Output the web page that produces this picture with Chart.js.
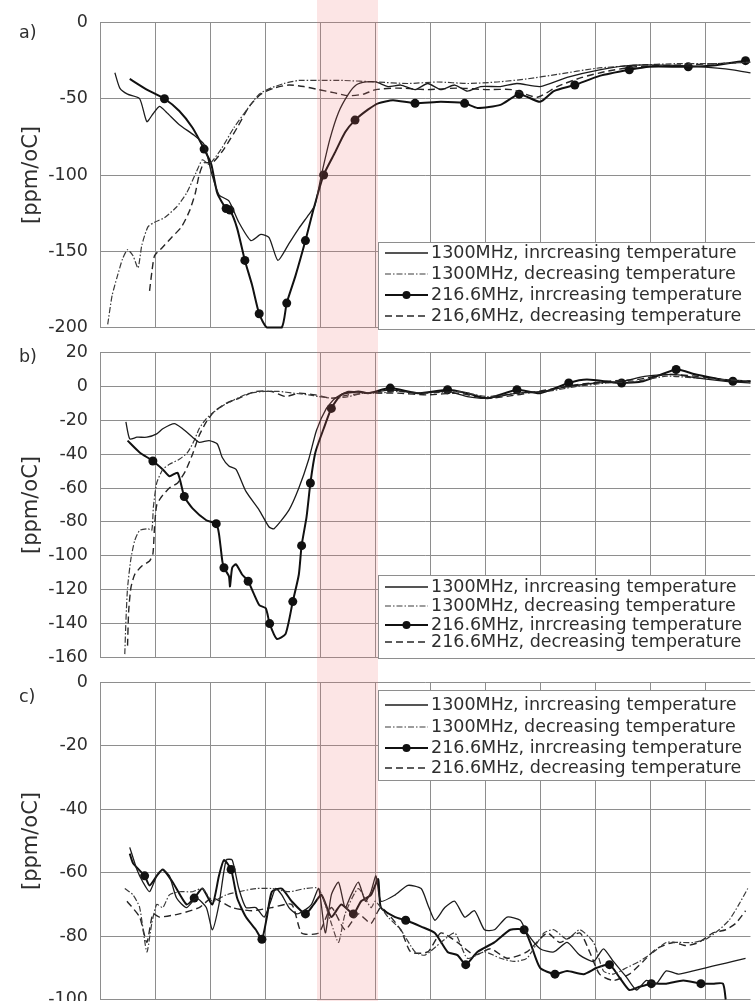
<!DOCTYPE html>
<html>
<head>
<meta charset="utf-8">
<script src="https://cdn.jsdelivr.net/npm/chart.js@4.4.0/dist/chart.umd.min.js"></script>
<style>
html,body{margin:0;padding:0;background:#fff;width:755px;height:1001px;overflow:hidden;}
#wrap{position:relative;width:755px;height:1001px;}
#wrap canvas{position:absolute;left:0;}
#band{position:absolute;left:317px;top:0;width:61px;height:1001px;background:rgba(240,110,110,0.18);pointer-events:none;z-index:5;}
</style>
</head>
<body>
<div id="wrap">
	<canvas id="ca" width="755" height="350" style="top:0px"></canvas>
	<canvas id="cb" width="755" height="350" style="top:330px"></canvas>
	<canvas id="cc" width="755" height="362" style="top:660px"></canvas>
	<div id="band"></div>
</div>
<script>
// x: one unit per vertical grid line (axis labels are cut off in the source)
const xGrid = [0,1,2,3,4,5,6,7,8,9,10,11];
const xMax = 11.81;

const ticksA = [0,-50,-100,-150,-200];
const ticksB = [20,0,-20,-40,-60,-80,-100,-120,-140,-160];
const ticksC = [0,-20,-40,-60,-80,-100];

const labelsA = ['1300MHz, inrcreasing temperature','1300MHz, decreasing temperature','216.6MHz, inrcreasing temperature','216,6MHz, decreasing temperature'];
const labelsBC = ['1300MHz, inrcreasing temperature','1300MHz, decreasing temperature','216.6MHz, inrcreasing temperature','216.6MHz, decreasing temperature'];

// ---- panel a ----
const aInc1300 = [[0.27,-33],[0.36,-43],[0.50,-47],[0.72,-50],[0.85,-65],[0.96,-60],[1.08,-55],[1.21,-59],[1.44,-67],[1.71,-74],[1.89,-80],[2.02,-98],[2.16,-113],[2.34,-117],[2.52,-131],[2.74,-143],[2.92,-139],[3.07,-141],[3.23,-156],[3.43,-145],[3.61,-135],[3.79,-126],[3.90,-120],[4.02,-100],[4.17,-77],[4.33,-59],[4.51,-47],[4.65,-41],[4.83,-39],[5.01,-39],[5.23,-42],[5.46,-41],[5.72,-44],[5.95,-40],[6.19,-44],[6.44,-41],[6.67,-45],[6.91,-42],[7.27,-42],[7.57,-40],[7.99,-42],[8.48,-36],[9.07,-31],[9.68,-28],[10.28,-28],[10.87,-29],[11.49,-31],[11.81,-33]];
const aDec1300 = [[0.14,-198],[0.22,-179],[0.31,-167],[0.41,-155],[0.50,-149],[0.60,-153],[0.69,-161],[0.76,-146],[0.87,-134],[0.99,-131],[1.17,-128],[1.39,-121],[1.57,-112],[1.75,-98],[1.86,-90],[1.98,-93],[2.20,-83],[2.43,-69],[2.67,-57],[2.89,-47],[3.10,-43],[3.34,-40],[3.61,-38],[3.97,-38],[4.42,-38],[5.01,-39],[5.59,-40],[6.13,-39],[6.67,-40],[7.21,-39],[7.75,-37],[8.30,-34],[9.02,-30],[9.74,-28],[10.46,-27],[11.18,-27],[11.81,-26]];
const aInc216 = [[0.54,-37],[0.85,-44],[1.17,-50],[1.44,-58],[1.68,-69],[1.89,-83],[2.02,-93],[2.13,-112],[2.29,-122],[2.36,-123],[2.49,-135],[2.63,-156],[2.76,-172],[2.89,-191],[3.03,-200],[3.30,-200],[3.39,-184],[3.55,-166],[3.73,-143],[3.88,-122],[4.06,-100],[4.27,-85],[4.45,-72],[4.63,-64],[4.87,-57],[5.05,-53],[5.32,-51],[5.72,-53],[6.19,-52],[6.62,-53],[6.85,-56],[7.27,-54],[7.61,-47],[7.99,-52],[8.24,-45],[8.62,-41],[9.07,-35],[9.61,-31],[9.97,-29],[10.68,-29],[11.18,-28],[11.72,-25]];
const aInc216Dots = [[1.17,-50],[1.89,-83],[2.29,-122],[2.36,-123],[2.63,-156],[2.89,-191],[3.39,-184],[3.73,-143],[4.06,-100],[4.63,-64],[5.72,-53],[6.62,-53],[7.61,-47],[8.62,-41],[9.61,-31],[10.68,-29],[11.72,-25]];
const aDec216 = [[0.90,-176],[0.94,-164],[0.99,-153],[1.12,-148],[1.30,-141],[1.48,-134],[1.62,-124],[1.73,-112],[1.80,-100],[1.89,-92],[2.04,-92],[2.25,-83],[2.49,-69],[2.71,-55],[2.92,-47],[3.16,-43],[3.43,-41],[3.70,-42],[3.97,-44],[4.24,-46],[4.51,-48],[4.78,-47],[5.01,-44],[5.41,-43],[5.95,-44],[6.49,-43],[7.03,-44],[7.48,-44],[7.94,-49],[8.30,-42],[8.75,-36],[9.20,-32],[9.74,-29],[10.46,-28],[11.18,-27],[11.81,-26]];

// ---- panel b ----
const bInc1300 = [[0.47,-21],[0.54,-31],[0.67,-30],[0.85,-30],[1.03,-28],[1.14,-25],[1.35,-22],[1.50,-25],[1.68,-30],[1.80,-33],[1.98,-32],[2.13,-34],[2.22,-42],[2.34,-47],[2.47,-49],[2.65,-62],[2.89,-73],[3.07,-83],[3.16,-84],[3.43,-73],[3.61,-60],[3.79,-43],[3.93,-26],[4.11,-13],[4.27,-7],[4.51,-3],[4.87,-4],[5.27,-2],[5.77,-4],[6.31,-3],[6.67,-6],[7.03,-7],[7.57,-4],[8.03,-3],[8.51,0],[9.02,2],[9.47,3],[9.92,6],[10.46,7],[10.82,5],[11.36,3],[11.81,2]];
const bDec1300 = [[0.45,-158],[0.47,-139],[0.50,-119],[0.56,-102],[0.63,-91],[0.72,-85],[0.87,-84],[0.94,-85],[0.97,-71],[1.03,-57],[1.14,-49],[1.26,-46],[1.44,-43],[1.59,-39],[1.71,-32],[1.80,-25],[1.93,-19],[2.07,-15],[2.25,-11],[2.43,-8],[2.71,-4],[2.98,-3],[3.25,-3],[3.52,-4],[3.79,-5],[3.97,-6],[4.24,-7],[4.51,-6],[4.78,-4],[5.05,-4],[5.41,-3],[5.95,-4],[6.49,-3],[7.03,-6],[7.57,-4],[8.12,-3],[8.66,0],[9.20,2],[9.74,3],[10.28,6],[10.82,5],[11.36,4],[11.81,3]];
const bInc216 = [[0.50,-32],[0.72,-39],[0.96,-44],[1.14,-49],[1.26,-53],[1.41,-51],[1.53,-65],[1.68,-72],[1.93,-79],[2.11,-81],[2.16,-87],[2.22,-103],[2.25,-107],[2.34,-112],[2.36,-118],[2.40,-107],[2.47,-105],[2.58,-111],[2.69,-115],[2.89,-129],[3.01,-131],[3.08,-140],[3.21,-149],[3.37,-146],[3.50,-127],[3.61,-111],[3.66,-94],[3.75,-77],[3.82,-57],[3.91,-39],[4.06,-25],[4.20,-13],[4.38,-5],[4.69,-3],[4.87,-4],[5.27,-1],[5.77,-4],[6.31,-2],[6.67,-4],[7.03,-7],[7.57,-2],[7.99,-4],[8.51,2],[8.84,4],[9.47,2],[9.86,3],[10.46,10],[10.82,7],[11.49,3],[11.81,3]];
const bInc216Dots = [[0.96,-44],[1.53,-65],[2.11,-81],[2.25,-107],[2.69,-115],[3.08,-140],[3.50,-127],[3.66,-94],[3.82,-57],[4.20,-13],[5.27,-1],[6.31,-2],[7.57,-2],[8.51,2],[9.47,2],[10.46,10],[11.49,3]];
const bDec216 = [[0.50,-153],[0.52,-133],[0.56,-119],[0.63,-111],[0.76,-106],[0.90,-103],[0.96,-99],[0.99,-83],[1.03,-70],[1.12,-65],[1.26,-60],[1.41,-57],[1.55,-50],[1.68,-40],[1.80,-29],[1.93,-21],[2.07,-15],[2.29,-10],[2.52,-7],[2.83,-3],[3.12,-3],[3.37,-6],[3.61,-4],[3.91,-5],[4.20,-7],[4.51,-5],[4.87,-4],[5.41,-4],[5.95,-5],[6.49,-4],[7.03,-7],[7.57,-5],[8.12,-2],[8.66,1],[9.20,3],[9.74,4],[10.28,7],[10.82,6],[11.36,4],[11.81,3]];

// ---- panel c ----
const cInc1300 = [[0.54,-52],[0.67,-59],[0.78,-63],[0.90,-66],[1.03,-61],[1.14,-59],[1.26,-61],[1.39,-68],[1.57,-71],[1.75,-68],[1.93,-71],[2.04,-78],[2.16,-70],[2.29,-56],[2.40,-56],[2.52,-65],[2.65,-71],[2.83,-71],[2.98,-74],[3.10,-69],[3.19,-65],[3.30,-67],[3.43,-71],[3.57,-73],[3.70,-72],[3.84,-70],[3.97,-65],[4.09,-79],[4.20,-67],[4.33,-63],[4.45,-71],[4.56,-67],[4.69,-63],[4.82,-69],[4.92,-66],[5.01,-61],[5.10,-69],[5.36,-67],[5.59,-64],[5.83,-65],[5.95,-70],[6.08,-75],[6.26,-71],[6.44,-69],[6.62,-74],[6.80,-72],[6.98,-78],[7.16,-78],[7.39,-74],[7.63,-75],[7.75,-79],[7.99,-84],[8.24,-85],[8.48,-82],[8.71,-86],[8.96,-88],[9.14,-84],[9.32,-88],[9.56,-93],[9.74,-97],[9.92,-94],[10.10,-95],[10.28,-91],[10.51,-92],[10.77,-91],[11.00,-90],[11.24,-89],[11.49,-88],[11.72,-87]];
const cDec1300 = [[0.45,-65],[0.60,-67],[0.72,-71],[0.85,-85],[0.94,-76],[1.03,-70],[1.14,-71],[1.26,-67],[1.44,-66],[1.68,-66],[1.86,-65],[2.04,-69],[2.29,-67],[2.52,-66],[2.83,-65],[3.12,-65],[3.43,-66],[3.73,-65],[3.97,-65],[4.20,-76],[4.33,-82],[4.45,-73],[4.69,-65],[4.92,-71],[5.00,-69],[5.23,-74],[5.46,-78],[5.72,-85],[5.90,-86],[6.19,-82],[6.44,-79],[6.67,-87],[6.98,-85],[7.27,-87],[7.52,-88],[7.75,-87],[8.06,-79],[8.24,-78],[8.48,-81],[8.71,-78],[8.96,-82],[9.14,-91],[9.32,-92],[9.56,-90],[9.79,-88],[10.05,-85],[10.28,-82],[10.51,-82],[10.77,-82],[11.00,-81],[11.24,-78],[11.42,-75],[11.60,-70],[11.76,-65]];
const cInc216 = [[0.54,-54],[0.60,-57],[0.81,-61],[0.90,-64],[1.03,-61],[1.14,-59],[1.32,-63],[1.57,-70],[1.71,-68],[1.86,-65],[2.04,-70],[2.16,-61],[2.25,-56],[2.38,-59],[2.49,-68],[2.65,-74],[2.83,-78],[2.94,-81],[3.03,-74],[3.12,-66],[3.30,-65],[3.48,-69],[3.73,-73],[3.88,-70],[4.02,-67],[4.20,-74],[4.38,-70],[4.60,-73],[4.74,-69],[4.92,-67],[5.05,-62],[5.10,-71],[5.36,-74],[5.55,-75],[5.83,-77],[6.08,-79],[6.31,-85],[6.49,-86],[6.64,-89],[6.85,-85],[7.16,-82],[7.45,-78],[7.70,-78],[7.81,-82],[7.99,-90],[8.26,-92],[8.48,-91],[8.78,-92],[9.02,-90],[9.25,-89],[9.43,-93],[9.61,-97],[9.79,-96],[10.01,-95],[10.28,-95],[10.59,-94],[10.91,-95],[11.13,-95],[11.31,-95],[11.36,-100]];
const cInc216Dots = [[0.81,-61],[1.71,-68],[2.38,-59],[2.94,-81],[3.73,-73],[4.60,-73],[5.55,-75],[6.64,-89],[7.70,-78],[8.26,-92],[9.25,-89],[10.01,-95],[10.91,-95]];
const cDec216 = [[0.49,-69],[0.72,-74],[0.85,-82],[0.96,-73],[1.08,-74],[1.44,-73],[1.80,-71],[2.04,-68],[2.40,-71],[2.76,-72],[3.12,-71],[3.48,-70],[3.66,-79],[3.97,-79],[4.20,-71],[4.45,-78],[4.69,-73],[4.92,-76],[5.10,-71],[5.46,-78],[5.64,-85],[5.95,-85],[6.19,-79],[6.49,-82],[6.80,-86],[7.09,-84],[7.39,-87],[7.75,-85],[8.12,-79],[8.35,-82],[8.71,-79],[8.89,-85],[9.07,-92],[9.32,-94],[9.61,-92],[9.86,-88],[10.10,-84],[10.41,-82],[10.64,-83],[10.87,-82],[11.13,-79],[11.36,-78],[11.54,-76],[11.72,-72]];

const FONT = "'DejaVu Sans', sans-serif";
const GRID = '#8e8e8e';
const TEXT = '#2e2e2e';

const pts = arr => arr.map(p => ({x: p[0], y: p[1]}));

function drawSample(c, d, x0, x1, y){
	c.save();
	c.strokeStyle = d.borderColor;
	c.lineWidth = d.borderWidth;
	c.setLineDash(d.borderDash || []);
	c.beginPath();
	c.moveTo(x0, y);
	c.lineTo(x1, y);
	c.stroke();
	if(d.sample === 'dot'){
		c.setLineDash([]);
		c.fillStyle = d.borderColor;
		c.beginPath();
		c.arc((x0 + x1) / 2, y, 4, 0, Math.PI * 2);
		c.fill();
	}
	c.restore();
}

// legend in a white box inside the plot, like the original figure
const boxLegend = {
	id: 'boxLegend',
	afterDatasetsDraw(chart, args, o){
		const c = chart.ctx;
		c.save();
		c.fillStyle = '#fff';
		c.fillRect(o.left, o.top, 420, o.bottom - o.top);
		c.strokeStyle = GRID;
		c.lineWidth = 1;
		c.strokeRect(o.left + 0.5, o.top + 0.5, 420, o.bottom - o.top);
		c.font = '17.5px ' + FONT;
		c.fillStyle = TEXT;
		c.textBaseline = 'middle';
		c.textAlign = 'left';
		chart.data.datasets.filter(d => d.sample).forEach((d, i) => {
			const y = o.rows[i];
			drawSample(c, d, o.left + 7, o.left + 50, y);
			c.fillText(d.label, o.left + 53, y);
		});
		c.restore();
	},
	afterDraw(chart, args, o){
		const c = chart.ctx;
		c.save();
		c.font = '17.5px ' + FONT;
		c.fillStyle = TEXT;
		c.textBaseline = 'middle';
		c.fillText(o.tag, 19, o.tagY);
		c.restore();
	}
};

function panel(id, s, yTicks, labels, pad, legendBox){
	const line = (data, extra) => Object.assign({
		data: pts(data), pointRadius: 0, tension: 0.2, fill: false, clip: 3
	}, extra);
	return new Chart(document.getElementById(id), {
		type: 'line',
		data: {
			datasets: [
				line(s.inc1300, {label: labels[0], sample: 'solid', borderColor: '#1c1c1c', borderWidth: 1.3}),
				line(s.dec1300, {label: labels[1], sample: 'dashdot', borderColor: '#3a3a3a', borderWidth: 1.2, borderDash: [6, 2, 1.5, 2]}),
				line(s.inc216, {label: labels[2], sample: 'dot', borderColor: '#111', borderWidth: 2}),
				line(s.dec216, {label: labels[3], sample: 'dash', borderColor: '#262626', borderWidth: 1.4, borderDash: [7, 4]}),
				{data: pts(s.dots), showLine: false, pointRadius: 4.5, pointBorderWidth: 0,
					pointBackgroundColor: '#111', clip: 6}
			]
		},
		options: {
			responsive: false,
			animation: false,
			events: [],
			layout: {padding: {top: pad[0], bottom: pad[1], left: 0, right: 0}},
			plugins: {
				legend: {display: false},
				tooltip: {enabled: false},
				boxLegend: legendBox
			},
			scales: {
				x: {
					type: 'linear', min: 0, max: xMax,
					afterBuildTicks: sc => { sc.ticks = xGrid.map(v => ({value: v})); },
					afterFit: sc => { sc.height = 0; },
					ticks: {display: false},
					grid: {color: GRID, lineWidth: 1, drawTicks: false},
					border: {display: false}
				},
				y: {
					min: Math.min(...yTicks), max: Math.max(...yTicks),
					afterBuildTicks: sc => { sc.ticks = yTicks.map(v => ({value: v})); },
					afterFit: sc => { sc.width = 100; },
					ticks: {color: TEXT, font: {family: FONT, size: 17.5}, padding: 12},
					grid: {color: GRID, lineWidth: 1, drawTicks: false},
					border: {color: GRID},
					title: {display: true, text: '[ppm/oC]', color: TEXT,
						font: {family: FONT, size: 21}, padding: {top: 19, bottom: 0}}
				}
			}
		},
		plugins: [boxLegend]
	});
}

panel('ca', {inc1300: aInc1300, dec1300: aDec1300, inc216: aInc216, dec216: aDec216, dots: aInc216Dots},
	ticksA, labelsA, [17, 12],
	{left: 378, top: 242, bottom: 329, rows: [253, 274, 295, 316], tag: 'a)', tagY: 33});
panel('cb', {inc1300: bInc1300, dec1300: bDec1300, inc216: bInc216, dec216: bDec216, dots: bInc216Dots},
	ticksB, labelsBC, [17.5, 12],
	{left: 378, top: 245, bottom: 328, rows: [257, 276, 295, 312], tag: 'b)', tagY: 27});
panel('cc', {inc1300: cInc1300, dec1300: cDec1300, inc216: cInc216, dec216: cDec216, dots: cInc216Dots},
	ticksC, labelsBC, [19, 21],
	{left: 378, top: 30, bottom: 120, rows: [45, 67, 88, 108], tag: 'c)', tagY: 37});
</script>
</body>
</html>
